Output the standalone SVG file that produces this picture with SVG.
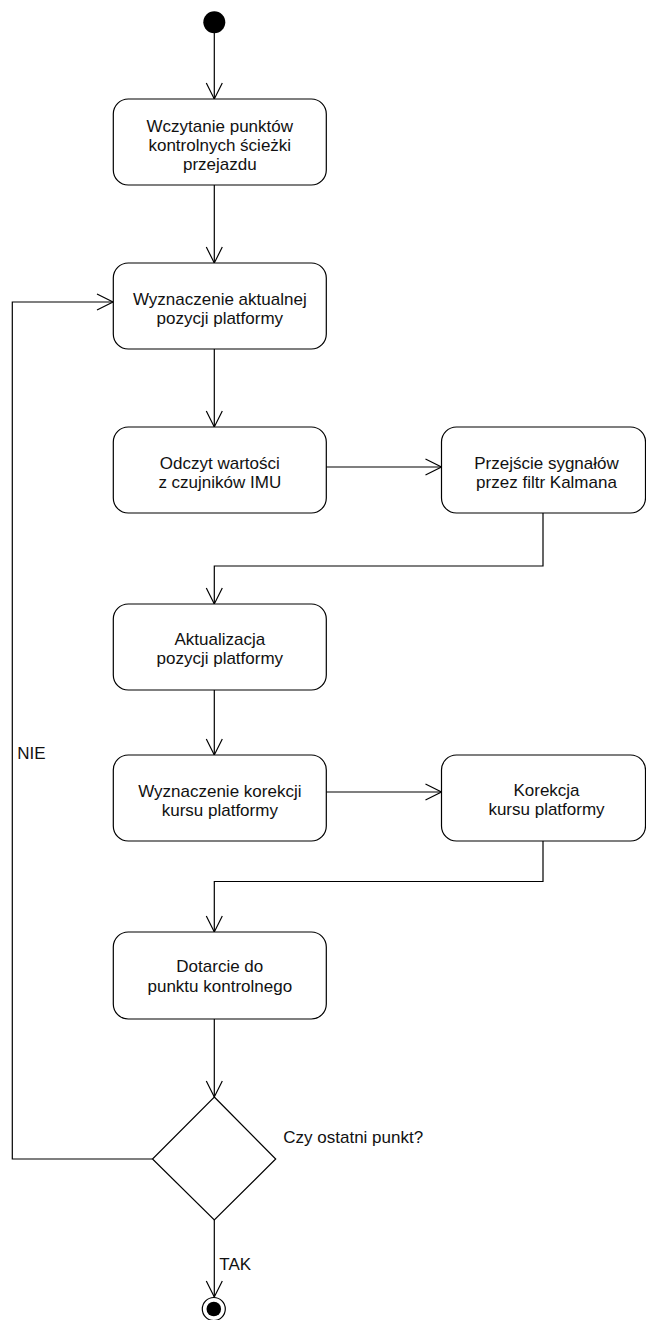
<svg xmlns="http://www.w3.org/2000/svg" width="646" height="1320" viewBox="0 0 646 1320">
<style>
  .box { fill: #ffffff; stroke: #000000; stroke-width: 1.2; }
  .lbl { font-family: "Liberation Sans", Arial, sans-serif; font-size: 17px; fill: #111111; text-anchor: middle; }
  .txt { font-family: "Liberation Sans", Arial, sans-serif; font-size: 17px; fill: #111111; }
  .edge { fill: none; stroke: #000000; stroke-width: 1.2; marker-end: url(#arr); }
  .line { fill: none; stroke: #000000; stroke-width: 1.2; }
</style>
<defs>
  <marker id="arr" viewBox="0 0 20 20" refX="17" refY="10" markerWidth="20" markerHeight="20" markerUnits="userSpaceOnUse" orient="auto">
    <path d="M1,2 L17,10 L1,18" fill="none" stroke="#000000" stroke-width="1.2"/>
  </marker>
</defs>
<rect width="646" height="1320" fill="#ffffff"/>

<g id="connectors">
  <path class="edge" d="M214.3,33 V99"/>
  <path class="edge" d="M214.3,185 V263"/>
  <path class="edge" d="M214.3,349 V427"/>
  <path class="edge" d="M326,467 H441.5"/>
  <path class="edge" d="M543,513 V566 H214.3 V604"/>
  <path class="edge" d="M214.3,690 V755"/>
  <path class="edge" d="M326,792 H441.5"/>
  <path class="edge" d="M543,841 V881.5 H214.3 V932"/>
  <path class="edge" d="M214.3,1019 V1097"/>
  <path class="edge" d="M152.5,1159 H12.3 V302 H113"/>
  <path class="edge" d="M214.3,1220 V1297"/>
</g>

<g id="start">
  <circle cx="214.3" cy="22.3" r="11" fill="#000000"/>
</g>

<g id="n1">
  <rect class="box" x="113.3" y="99" width="213" height="86" rx="15" ry="15"/>
  <text class="lbl" x="219.8" y="131.7">Wczytanie punktów</text>
  <text class="lbl" x="219.8" y="151">kontrolnych ścieżki</text>
  <text class="lbl" x="219.8" y="170.3">przejazdu</text>
</g>

<g id="n2">
  <rect class="box" x="113.3" y="263" width="213" height="86" rx="15" ry="15"/>
  <text class="lbl" x="219.8" y="304.5">Wyznaczenie aktualnej</text>
  <text class="lbl" x="219.8" y="323.8">pozycji platformy</text>
</g>

<g id="n3">
  <rect class="box" x="113.3" y="427" width="213" height="86" rx="15" ry="15"/>
  <text class="lbl" x="219.8" y="468.5">Odczyt wartości</text>
  <text class="lbl" x="219.8" y="487.8">z czujników IMU</text>
</g>

<g id="n4">
  <rect class="box" x="441.5" y="427" width="204" height="86" rx="15" ry="15"/>
  <text class="lbl" x="546.5" y="468.5">Przejście sygnałów</text>
  <text class="lbl" x="546.5" y="487.8">przez filtr Kalmana</text>
</g>

<g id="n5">
  <rect class="box" x="113.3" y="604" width="213" height="86" rx="15" ry="15"/>
  <text class="lbl" x="219.8" y="644.5">Aktualizacja</text>
  <text class="lbl" x="219.8" y="663.8">pozycji platformy</text>
</g>

<g id="n6">
  <rect class="box" x="113.3" y="755" width="213" height="86" rx="15" ry="15"/>
  <text class="lbl" x="219.8" y="796.5">Wyznaczenie korekcji</text>
  <text class="lbl" x="219.8" y="815.8">kursu platformy</text>
</g>

<g id="n7">
  <rect class="box" x="441.5" y="755" width="204" height="86" rx="15" ry="15"/>
  <text class="lbl" x="546.5" y="796">Korekcja</text>
  <text class="lbl" x="546.5" y="815.3">kursu platformy</text>
</g>

<g id="n8">
  <rect class="box" x="113.3" y="932" width="213" height="87" rx="15" ry="15"/>
  <text class="lbl" x="219.8" y="972">Dotarcie do</text>
  <text class="lbl" x="219.8" y="991.5">punktu kontrolnego</text>
</g>

<g id="decision">
  <polygon class="box" points="214.3,1097 275.7,1159 214.3,1220 152.5,1159"/>
  <text class="txt" x="283.3" y="1142.7">Czy ostatni punkt?</text>
</g>

<g id="labels">
  <text class="txt" x="17.3" y="759">NIE</text>
  <text class="txt" x="219.3" y="1270">TAK</text>
</g>

<g id="end">
  <circle cx="213.8" cy="1309" r="11.5" fill="#ffffff" stroke="#000000" stroke-width="1.2"/>
  <circle cx="213.8" cy="1309" r="7.3" fill="#000000"/>
</g>
</svg>
